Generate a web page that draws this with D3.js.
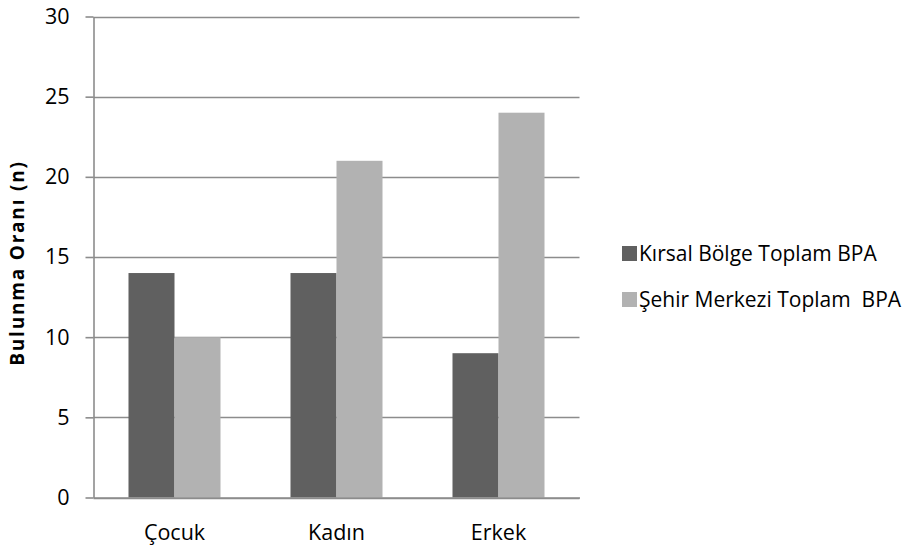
<!DOCTYPE html>
<html>
<head>
<meta charset="utf-8">
<script src="https://cdn.jsdelivr.net/npm/d3@7/dist/d3.min.js"></script>
<style>
  html, body { margin: 0; padding: 0; background: #fff; }
  svg { display: block; }
  text { font-family: "Open Sans", "Liberation Sans", sans-serif; fill: #000; }
</style>
</head>
<body>
<svg id="chart" width="904" height="551"></svg>
<script>
// Categories and the two series of BPA detection counts
const categories = ["Çocuk", "Kadın", "Erkek"];
const seriesNames = ["Kırsal Bölge Toplam BPA", "Şehir Merkezi Toplam  BPA"];
const kirsalValues = [14, 14, 9];
const sehirValues = [10, 21, 24];
const yTicks = [0, 5, 10, 15, 20, 25, 30];
const yTitle = "Bulunma Oranı (n)";

const colors = ["#606060", "#b2b2b2"];
const seriesValues = [kirsalValues, sehirValues];

const svg = d3.select("#chart");
const plot = { left: 93.5, right: 579.5, top: 16.5, bottom: 497.5 };

const x = d3.scaleBand()
  .domain(categories)
  .range([plot.left, plot.right])
  .paddingInner(0.432)
  .paddingOuter(0.216);

const xSub = d3.scaleBand()
  .domain(d3.range(seriesNames.length))
  .range([0, x.bandwidth()]);

const y = d3.scaleLinear()
  .domain([0, 30])
  .range([plot.bottom, plot.top]);

// Horizontal gridlines
svg.append("g")
  .selectAll("line")
  .data(yTicks)
  .join("line")
  .attr("x1", plot.left)
  .attr("x2", plot.right)
  .attr("y1", d => Math.round(y(d)) + 0.5)
  .attr("y2", d => Math.round(y(d)) + 0.5)
  .attr("stroke", "#8c8c8c")
  .attr("stroke-width", 1.6);

// Bars
const groups = svg.append("g")
  .selectAll("g")
  .data(categories)
  .join("g")
  .attr("transform", d => `translate(${x(d)},0)`);

groups.selectAll("rect")
  .data((d, i) => seriesValues.map((vals, s) => ({ s, v: vals[i] })))
  .join("rect")
  .attr("x", d => xSub(d.s))
  .attr("width", xSub.bandwidth())
  .attr("y", d => y(d.v))
  .attr("height", d => y(0) - y(d.v))
  .attr("fill", d => colors[d.s]);

// Y axis
const yAxis = svg.append("g")
  .attr("transform", `translate(${plot.left},0)`)
  .call(d3.axisLeft(y).tickValues(yTicks).tickSize(8).tickPadding(16).tickSizeOuter(0));
yAxis.select(".domain").attr("stroke", "#8c8c8c").attr("stroke-width", 1.6);
yAxis.selectAll(".tick line").attr("stroke", "#8c8c8c").attr("stroke-width", 1.6);
yAxis.selectAll(".tick text")
  .attr("font-size", 21.5)
  .attr("font-family", "'Open Sans', sans-serif")
  .attr("fill", "#000");

// X axis
const xAxis = svg.append("g")
  .attr("transform", `translate(0,${plot.bottom})`)
  .call(d3.axisBottom(x).tickSize(0).tickPadding(27));
xAxis.select(".domain").attr("stroke", "#8c8c8c").attr("stroke-width", 1.6);
xAxis.selectAll(".tick text")
  .attr("font-size", 21.5)
  .attr("font-family", "'Open Sans', sans-serif")
  .attr("fill", "#000");

// Y axis title
svg.append("text")
  .attr("transform", `translate(24,263) rotate(-90)`)
  .attr("text-anchor", "middle")
  .attr("font-size", 19)
  .attr("font-weight", "bold")
  .attr("letter-spacing", 1.8)
  .text(yTitle);

// Legend
const legend = svg.append("g")
  .selectAll("g")
  .data(seriesNames)
  .join("g")
  .attr("transform", (d, i) => `translate(622,${253.5 + i * 46})`);

legend.append("rect")
  .attr("x", 0)
  .attr("y", -7.5)
  .attr("width", 15)
  .attr("height", 15)
  .attr("fill", (d, i) => colors[i]);

legend.append("text")
  .attr("x", 17)
  .attr("y", 0)
  .attr("dy", "0.36em")
  .attr("font-size", 21)
  .style("white-space", "pre")
  .text(d => d);
</script>
</body>
</html>
